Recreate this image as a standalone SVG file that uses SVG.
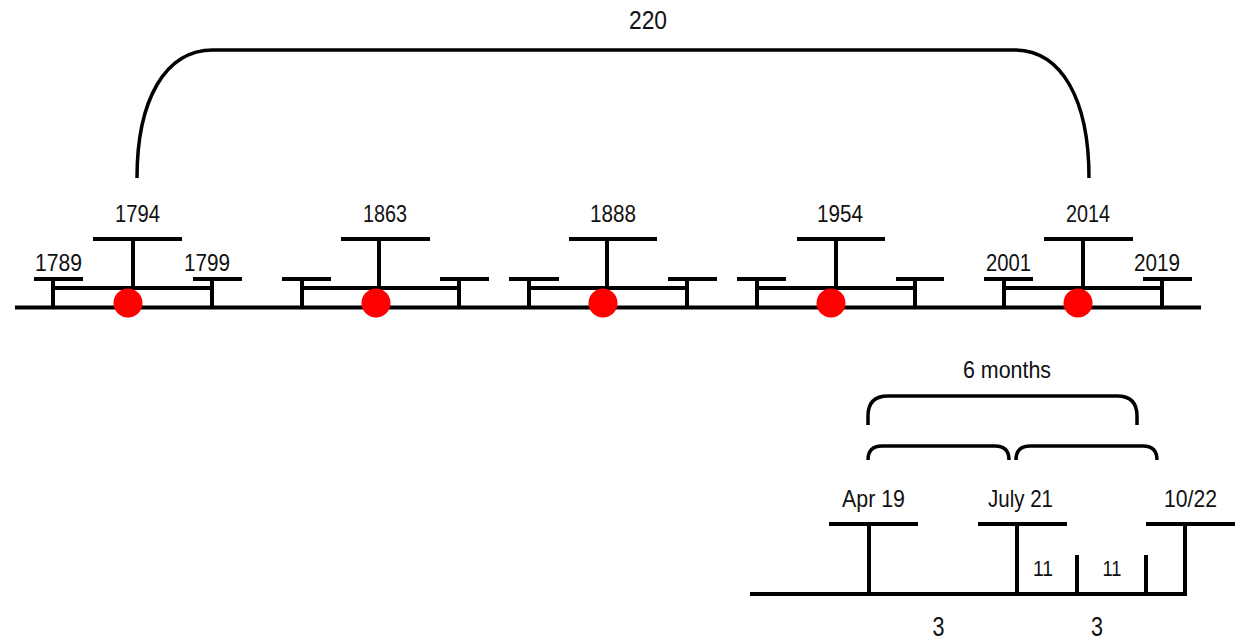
<svg xmlns="http://www.w3.org/2000/svg" width="1239" height="642" viewBox="0 0 1239 642">
<style>
.ln{stroke:#000;stroke-width:4;fill:none}
.br{stroke:#000;stroke-width:3.5;fill:none;stroke-linecap:butt}
.dot{fill:#ff0000}
.t{font-family:"Liberation Sans Narrow","Liberation Sans",Arial,sans-serif;font-size:24px;fill:#111;text-anchor:middle}
.s{font-size:22px}
.b{font-size:27px}
</style>
<rect width="1239" height="642" fill="#fff"/>
<g id="connectors">
<line class="ln" x1="15" y1="307.5" x2="1201" y2="307.5"/>
<path class="br" d="M137,178 C137,100 165,50 213,50 L1014,50 C1062,50 1089,100 1089,178"/>
<line class="ln" x1="750" y1="594" x2="1187" y2="594"/>
<path class="br" d="M868,425 L868,416 Q868,396 888,396 L1117,396 Q1137,396 1137,416 L1137,425"/>
<path class="br" d="M868,460 Q868,446 882,446 L995,446 Q1009,446 1009,460"/>
<path class="br" d="M1016,460 Q1016,446 1030,446 L1143,446 Q1157,446 1157,460"/>
</g>
<g id="label-220"><text class="t" x="648" y="29" style="font-size:26px" textLength="38" lengthAdjust="spacingAndGlyphs">220</text></g>
<g id="node-1794">
<line class="ln" x1="93" y1="239" x2="182" y2="239"/>
<line class="ln" x1="133" y1="239" x2="133" y2="288"/>
<line class="ln" x1="53" y1="288" x2="212" y2="288"/>
<line class="ln" x1="34" y1="279" x2="83" y2="279"/>
<line class="ln" x1="53" y1="279" x2="53" y2="307"/>
<line class="ln" x1="193" y1="279" x2="242" y2="279"/>
<line class="ln" x1="212" y1="279" x2="212" y2="307"/>
<circle class="dot" cx="128" cy="303" r="14.5"/>
<text class="t" x="137.5" y="222" textLength="45" lengthAdjust="spacingAndGlyphs">1794</text>
<text class="t" x="58.5" y="271" textLength="47" lengthAdjust="spacingAndGlyphs">1789</text>
<text class="t" x="207" y="271" textLength="46" lengthAdjust="spacingAndGlyphs">1799</text>
</g>
<g id="node-1863">
<line class="ln" x1="341" y1="239" x2="430" y2="239"/>
<line class="ln" x1="379" y1="239" x2="379" y2="288"/>
<line class="ln" x1="302" y1="288" x2="459" y2="288"/>
<line class="ln" x1="282" y1="279" x2="331" y2="279"/>
<line class="ln" x1="302" y1="279" x2="302" y2="307"/>
<line class="ln" x1="440" y1="279" x2="489" y2="279"/>
<line class="ln" x1="459" y1="279" x2="459" y2="307"/>
<circle class="dot" cx="376" cy="303" r="14.5"/>
<text class="t" x="385" y="222" textLength="44" lengthAdjust="spacingAndGlyphs">1863</text>
</g>
<g id="node-1888">
<line class="ln" x1="569" y1="239" x2="657" y2="239"/>
<line class="ln" x1="607" y1="239" x2="607" y2="288"/>
<line class="ln" x1="529" y1="288" x2="687" y2="288"/>
<line class="ln" x1="509" y1="279" x2="559" y2="279"/>
<line class="ln" x1="529" y1="279" x2="529" y2="307"/>
<line class="ln" x1="668" y1="279" x2="717" y2="279"/>
<line class="ln" x1="687" y1="279" x2="687" y2="307"/>
<circle class="dot" cx="603" cy="303" r="14.5"/>
<text class="t" x="613" y="222" textLength="46" lengthAdjust="spacingAndGlyphs">1888</text>
</g>
<g id="node-1954">
<line class="ln" x1="797" y1="239" x2="885" y2="239"/>
<line class="ln" x1="836" y1="239" x2="836" y2="288"/>
<line class="ln" x1="757" y1="288" x2="915" y2="288"/>
<line class="ln" x1="737" y1="279" x2="786" y2="279"/>
<line class="ln" x1="757" y1="279" x2="757" y2="307"/>
<line class="ln" x1="896" y1="279" x2="944" y2="279"/>
<line class="ln" x1="915" y1="279" x2="915" y2="307"/>
<circle class="dot" cx="831" cy="303" r="14.5"/>
<text class="t" x="840" y="222" textLength="46" lengthAdjust="spacingAndGlyphs">1954</text>
</g>
<g id="node-2014">
<line class="ln" x1="1044" y1="239" x2="1133" y2="239"/>
<line class="ln" x1="1083" y1="239" x2="1083" y2="288"/>
<line class="ln" x1="1004" y1="288" x2="1162" y2="288"/>
<line class="ln" x1="984" y1="279" x2="1033" y2="279"/>
<line class="ln" x1="1004" y1="279" x2="1004" y2="307"/>
<line class="ln" x1="1143" y1="279" x2="1192" y2="279"/>
<line class="ln" x1="1162" y1="279" x2="1162" y2="307"/>
<circle class="dot" cx="1078" cy="303" r="14.5"/>
<text class="t" x="1088" y="222" textLength="44" lengthAdjust="spacingAndGlyphs">2014</text>
<text class="t" x="1008.5" y="271" textLength="45" lengthAdjust="spacingAndGlyphs">2001</text>
<text class="t" x="1157" y="271" textLength="46" lengthAdjust="spacingAndGlyphs">2019</text>
</g>
<g id="label-6months"><text class="t" x="1007" y="378" textLength="88" lengthAdjust="spacingAndGlyphs">6 months</text></g>
<g id="node-apr19">
<line class="ln" x1="829" y1="524" x2="918" y2="524"/>
<line class="ln" x1="869" y1="524" x2="869" y2="594"/>
<text class="t" x="873.5" y="507" textLength="63" lengthAdjust="spacingAndGlyphs">Apr 19</text>
</g>
<g id="node-july21">
<line class="ln" x1="978" y1="524" x2="1067" y2="524"/>
<line class="ln" x1="1017" y1="524" x2="1017" y2="594"/>
<text class="t" x="1020.5" y="507" textLength="65" lengthAdjust="spacingAndGlyphs">July 21</text>
</g>
<g id="node-1022">
<line class="ln" x1="1146" y1="524" x2="1235" y2="524"/>
<line class="ln" x1="1185" y1="524" x2="1185" y2="594"/>
<text class="t" x="1190.5" y="507" textLength="53" lengthAdjust="spacingAndGlyphs">10/22</text>
</g>
<g id="ticks">
<line class="ln" x1="1077" y1="555" x2="1077" y2="594"/>
<line class="ln" x1="1146" y1="555" x2="1146" y2="594"/>
<text class="t s" x="1043" y="576" textLength="20" lengthAdjust="spacingAndGlyphs">11</text>
<text class="t s" x="1112" y="576" textLength="19" lengthAdjust="spacingAndGlyphs">11</text>
</g>
<g id="labels-3">
<text class="t b" x="938.5" y="636" textLength="12" lengthAdjust="spacingAndGlyphs">3</text>
<text class="t b" x="1097" y="636" textLength="12" lengthAdjust="spacingAndGlyphs">3</text>
</g>
</svg>
